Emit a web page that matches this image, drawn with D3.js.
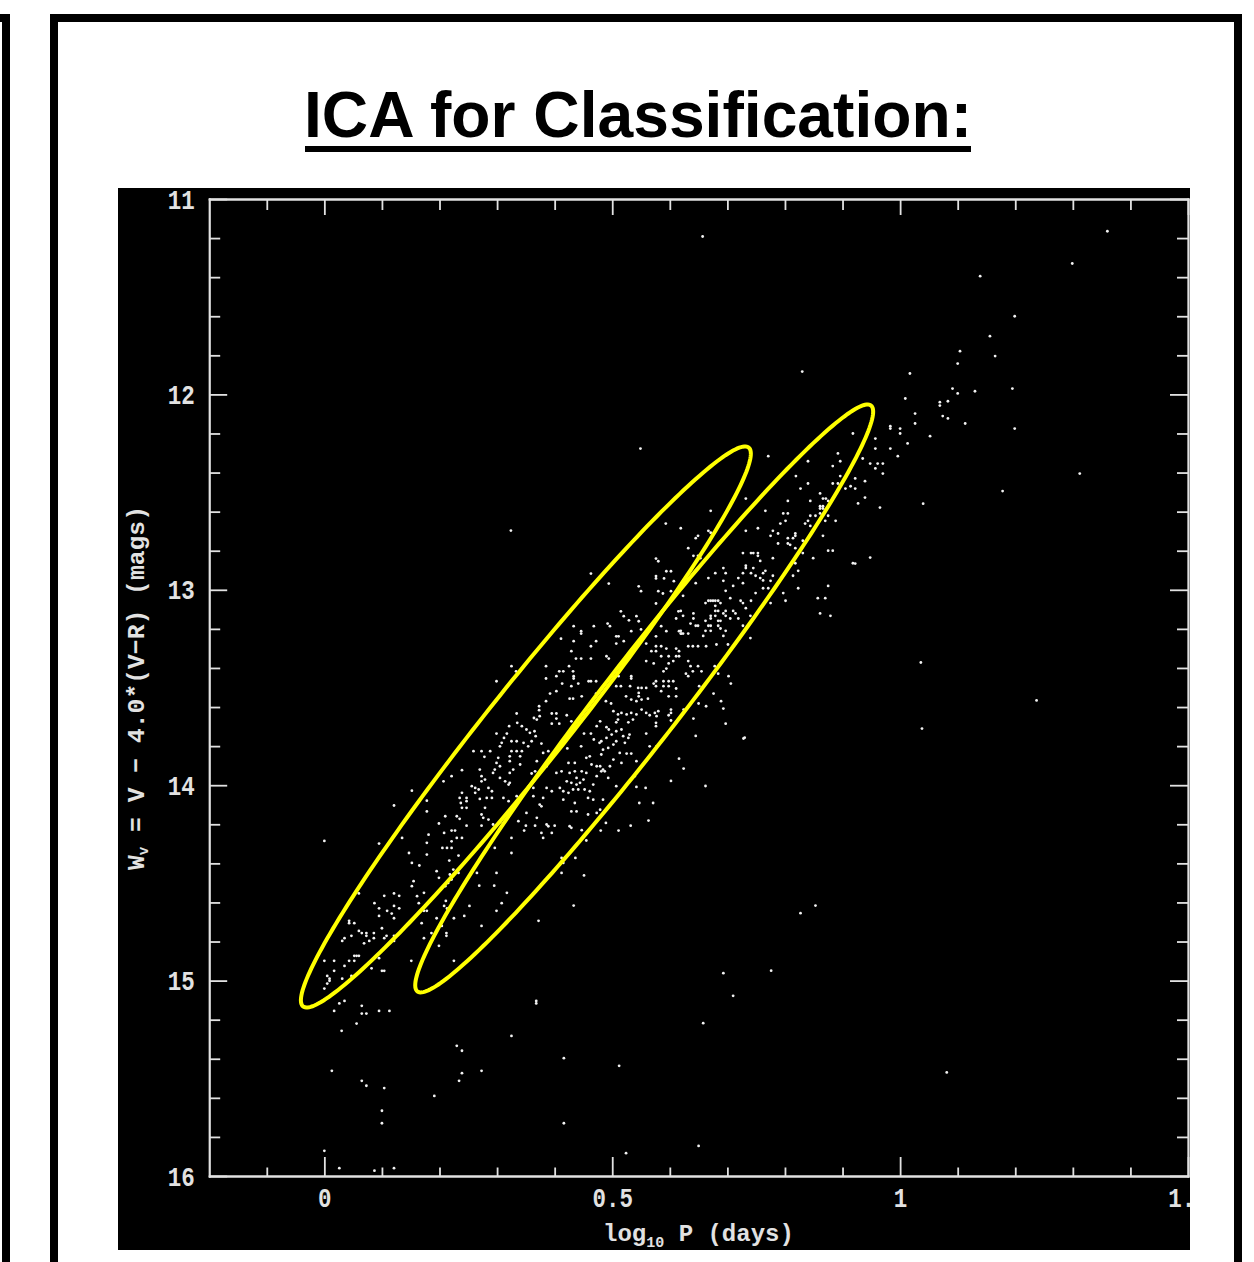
<!DOCTYPE html>
<html><head><meta charset="utf-8">
<script src="https://cdn.jsdelivr.net/npm/d3@7/dist/d3.min.js"></script>
<style>html,body{margin:0;padding:0;background:#fff;overflow:hidden}svg{display:block}</style>
</head><body><svg id="c" width="1254" height="1262"></svg>
<script>
const titleText="ICA for Classification:";
const xMajor=[0,0.5,1,1.5];
const xMinor=[-0.1,0.1,0.2,0.3,0.4,0.6,0.7,0.8,0.9,1.1,1.2,1.3,1.4];
const yMajor=[11,12,13,14,15,16];
const yMinor=[11.2,11.4,11.6,11.8,12.2,12.4,12.6,12.8,13.2,13.4,13.6,13.8,14.2,14.4,14.6,14.8,15.2,15.4,15.6,15.8];
// ellipse: centre, semi-major vector, semi-minor vector, in data units
const ellipseA={c:[0.350,13.702],u:[0.387,-1.430],v:[0.054,0.128]};
const ellipseB={c:[0.5555,13.556],u:[0.394,-1.499],v:[0.054,0.128]};
// [log10 P, W]
const starsBright=[[1.360,11.165],[1.299,11.330],[1.139,11.395],[1.199,11.600],[1.156,11.702],[1.104,11.779],[1.165,11.804],[1.100,11.842],[1.017,11.893],[1.091,11.970],[1.100,11.995],[1.130,11.984],[1.195,11.970],[1.009,12.021],[1.083,12.035],[1.069,12.040],[1.069,12.057],[1.026,12.098],[1.074,12.111],[1.083,12.123],[1.026,12.149],[1.113,12.149],[0.983,12.163],[0.983,12.175],[1.000,12.175],[1.000,12.200],[1.199,12.175],[1.052,12.214],[0.957,12.226],[1.013,12.251],[0.957,12.277],[0.983,12.277],[0.996,12.316],[0.935,12.328],[0.948,12.354],[0.961,12.354],[0.970,12.354],[0.957,12.379],[0.970,12.405],[1.312,12.405],[0.939,12.444],[1.178,12.495],[0.939,12.528],[0.657,11.192],[0.830,11.883],[0.549,12.277],[0.324,12.697],[1.040,12.559],[0.965,12.579],[1.036,13.372],[1.038,13.710],[1.237,13.566],[0.948,12.835],[0.922,12.866],[0.593,12.661],[0.730,13.757]];
const starsUpper=[[0.918,12.200],[0.771,12.316],[0.892,12.302],[0.840,12.342],[0.896,12.342],[0.883,12.367],[0.819,12.418],[0.896,12.418],[0.922,12.430],[0.840,12.456],[0.883,12.456],[0.892,12.456],[0.914,12.470],[0.905,12.482],[0.922,12.482],[0.827,12.482],[0.732,12.533],[0.805,12.545],[0.844,12.545],[0.861,12.507],[0.866,12.533],[0.871,12.533],[0.875,12.545],[0.927,12.558],[0.861,12.572],[0.866,12.572],[0.861,12.584],[0.866,12.584],[0.766,12.596],[0.671,12.596],[0.797,12.609],[0.805,12.609],[0.861,12.609],[0.844,12.621],[0.853,12.621],[0.875,12.621],[0.801,12.647],[0.840,12.647],[0.870,12.647],[0.888,12.647],[0.792,12.661],[0.835,12.661],[0.844,12.673],[0.753,12.685],[0.619,12.685],[0.779,12.698],[0.732,12.698],[0.667,12.698],[0.671,12.708],[0.788,12.712],[0.818,12.712],[0.818,12.724],[0.775,12.724],[0.866,12.724],[0.649,12.724],[0.645,12.736],[0.805,12.736],[0.814,12.736],[0.831,12.749],[0.788,12.763],[0.805,12.763],[0.809,12.770],[0.818,12.787],[0.632,12.787],[0.875,12.800],[0.883,12.800],[0.727,12.812],[0.741,12.812],[0.745,12.812],[0.753,12.812],[0.753,12.826],[0.831,12.812],[0.641,12.826],[0.649,12.826],[0.653,12.838],[0.779,12.838],[0.849,12.838],[0.757,12.852],[0.818,12.864],[0.918,12.864],[0.732,12.877],[0.732,12.889],[0.693,12.889],[0.745,12.889],[0.823,12.903],[0.766,12.903],[0.679,12.915],[0.697,12.915],[0.727,12.915],[0.741,12.915],[0.762,12.915],[0.749,12.928],[0.779,12.928],[0.814,12.928],[0.667,12.940],[0.719,12.940],[0.757,12.940],[0.762,12.952],[0.693,12.954],[0.775,12.954],[0.727,12.966],[0.645,12.966],[0.710,12.980],[0.875,12.980],[0.762,12.992],[0.771,12.992],[0.823,12.992],[0.697,13.005],[0.749,13.017],[0.797,13.017],[0.623,13.031],[0.857,13.043],[0.870,13.043],[0.705,13.043],[0.667,13.056],[0.671,13.056],[0.675,13.056],[0.679,13.056],[0.684,13.056],[0.662,13.068],[0.688,13.068],[0.723,13.056],[0.727,13.068],[0.741,13.056],[0.775,13.068],[0.801,13.056],[0.679,13.082],[0.732,13.094],[0.679,13.108],[0.684,13.108],[0.697,13.108],[0.710,13.108],[0.714,13.121],[0.619,13.108],[0.641,13.121],[0.693,13.121],[0.861,13.121],[0.879,13.133],[0.623,13.133],[0.671,13.133],[0.671,13.147],[0.697,13.133],[0.679,13.133],[0.705,13.147],[0.719,13.147],[0.740,13.133],[0.641,13.147],[0.636,13.173],[0.662,13.159],[0.684,13.159],[0.688,13.159],[0.645,13.184],[0.649,13.184],[0.667,13.184],[0.671,13.184],[0.684,13.184],[0.688,13.198],[0.662,13.210],[0.671,13.210],[0.697,13.210],[0.619,13.210],[0.619,13.224],[0.623,13.224],[0.632,13.224],[0.658,13.236],[0.693,13.236],[0.727,13.184],[0.740,13.247]];
const starsMiddle=[[0.463,12.917],[0.494,12.968],[0.576,12.840],[0.580,12.854],[0.576,12.930],[0.576,12.942],[0.594,12.905],[0.602,12.905],[0.590,12.942],[0.607,12.956],[0.546,12.982],[0.550,13.007],[0.580,13.007],[0.588,13.019],[0.602,13.007],[0.576,13.070],[0.515,13.110],[0.520,13.135],[0.529,13.156],[0.542,13.135],[0.546,13.161],[0.492,13.173],[0.496,13.186],[0.433,13.186],[0.468,13.186],[0.585,13.186],[0.615,13.110],[0.611,13.147],[0.446,13.212],[0.446,13.224],[0.533,13.212],[0.550,13.203],[0.576,13.238],[0.594,13.212],[0.616,13.212],[0.620,13.224],[0.511,13.238],[0.507,13.238],[0.411,13.250],[0.433,13.263],[0.472,13.263],[0.507,13.275],[0.520,13.263],[0.463,13.289],[0.576,13.289],[0.585,13.289],[0.594,13.301],[0.559,13.275],[0.429,13.314],[0.490,13.340],[0.494,13.352],[0.437,13.352],[0.446,13.352],[0.463,13.352],[0.568,13.314],[0.576,13.314],[0.611,13.301],[0.616,13.314],[0.616,13.340],[0.611,13.340],[0.598,13.340],[0.585,13.340],[0.559,13.365],[0.572,13.377],[0.606,13.365],[0.598,13.377],[0.594,13.403],[0.589,13.417],[0.632,13.289],[0.640,13.289],[0.649,13.289],[0.663,13.289],[0.681,13.280],[0.701,13.280],[0.385,13.391],[0.325,13.391],[0.333,13.417],[0.425,13.391],[0.408,13.417],[0.415,13.417],[0.432,13.417],[0.403,13.442],[0.385,13.454],[0.433,13.442],[0.433,13.454],[0.299,13.468],[0.459,13.468],[0.463,13.468],[0.472,13.468],[0.413,13.480],[0.429,13.493],[0.441,13.480],[0.511,13.442],[0.533,13.442],[0.533,13.454],[0.515,13.493],[0.576,13.468],[0.572,13.480],[0.576,13.493],[0.589,13.468],[0.598,13.468],[0.606,13.468],[0.589,13.493],[0.598,13.493],[0.545,13.502],[0.551,13.502],[0.559,13.502],[0.531,13.493],[0.507,13.493],[0.651,13.493],[0.611,13.505],[0.676,13.531],[0.632,13.442],[0.640,13.417],[0.636,13.391],[0.632,13.365],[0.649,13.391],[0.655,13.417],[0.684,13.391],[0.678,13.391],[0.684,13.429],[0.702,13.442],[0.706,13.480],[0.628,13.429],[0.392,13.531],[0.403,13.519],[0.447,13.545],[0.426,13.557],[0.432,13.557],[0.385,13.570],[0.472,13.531],[0.489,13.570],[0.498,13.582],[0.524,13.545],[0.546,13.528],[0.546,13.545],[0.533,13.562],[0.542,13.570],[0.551,13.562],[0.562,13.557],[0.611,13.545],[0.585,13.519],[0.598,13.545],[0.689,13.570],[0.693,13.608],[0.663,13.596],[0.650,13.582],[0.373,13.596],[0.373,13.616],[0.334,13.633],[0.364,13.656],[0.369,13.664],[0.374,13.647],[0.395,13.633],[0.403,13.633],[0.421,13.642],[0.455,13.608],[0.502,13.621],[0.510,13.638],[0.516,13.630],[0.510,13.664],[0.507,13.678],[0.525,13.638],[0.533,13.630],[0.542,13.638],[0.536,13.664],[0.528,13.678],[0.551,13.613],[0.559,13.630],[0.565,13.642],[0.574,13.630],[0.580,13.621],[0.577,13.647],[0.598,13.642],[0.602,13.613],[0.602,13.630],[0.576,13.681],[0.576,13.698],[0.602,13.669],[0.624,13.613],[0.641,13.659],[0.697,13.685],[0.645,13.748],[0.728,13.761]];
const starsLower=[[0.335,13.681],[0.343,13.698],[0.351,13.715],[0.357,13.732],[0.321,13.698],[0.365,13.724],[0.367,13.749],[0.395,13.685],[0.403,13.659],[0.408,13.685],[0.429,13.673],[0.479,13.673],[0.490,13.703],[0.494,13.715],[0.516,13.715],[0.507,13.724],[0.499,13.741],[0.490,13.758],[0.473,13.698],[0.519,13.749],[0.530,13.741],[0.463,13.736],[0.468,13.766],[0.451,13.736],[0.481,13.775],[0.478,13.783],[0.559,13.736],[0.299,13.736],[0.317,13.736],[0.312,13.758],[0.334,13.775],[0.325,13.775],[0.346,13.783],[0.360,13.775],[0.305,13.801],[0.308,13.783],[0.377,13.787],[0.422,13.812],[0.446,13.801],[0.507,13.775],[0.522,13.783],[0.528,13.758],[0.502,13.792],[0.493,13.809],[0.484,13.818],[0.481,13.843],[0.513,13.835],[0.525,13.838],[0.533,13.838],[0.565,13.801],[0.577,13.801],[0.389,13.826],[0.380,13.835],[0.325,13.826],[0.334,13.826],[0.343,13.826],[0.322,13.852],[0.340,13.852],[0.354,13.801],[0.369,13.877],[0.302,13.860],[0.299,13.886],[0.273,13.826],[0.259,13.826],[0.288,13.826],[0.305,13.903],[0.322,13.877],[0.340,13.894],[0.278,13.855],[0.461,13.852],[0.455,13.860],[0.464,13.894],[0.473,13.903],[0.479,13.903],[0.496,13.903],[0.484,13.920],[0.502,13.869],[0.516,13.886],[0.542,13.877],[0.616,13.864],[0.624,13.915],[0.435,13.886],[0.424,13.886],[0.412,13.929],[0.403,13.937],[0.386,13.903],[0.366,13.929],[0.360,13.940],[0.270,13.920],[0.296,13.920],[0.293,13.937],[0.328,13.920],[0.322,13.937],[0.426,13.937],[0.435,13.929],[0.447,13.929],[0.455,13.937],[0.473,13.954],[0.481,13.929],[0.487,13.929],[0.493,13.963],[0.239,13.923],[0.221,13.954],[0.207,13.980],[0.273,13.954],[0.273,13.980],[0.279,13.971],[0.305,13.963],[0.314,13.980],[0.322,13.988],[0.320,13.997],[0.363,14.014],[0.386,14.014],[0.395,14.031],[0.409,14.014],[0.438,13.963],[0.438,13.997],[0.444,13.988],[0.450,13.971],[0.421,13.980],[0.429,13.988],[0.415,14.031],[0.424,14.039],[0.432,14.022],[0.441,14.022],[0.452,14.022],[0.461,14.031],[0.467,13.997],[0.507,14.005],[0.539,13.954],[0.542,14.009],[0.558,14.014],[0.602,13.978],[0.662,14.004],[0.256,14.005],[0.262,14.014],[0.268,14.022],[0.262,14.039],[0.285,14.014],[0.291,14.031],[0.282,14.065],[0.291,14.065],[0.239,14.039],[0.235,14.065],[0.247,14.065],[0.247,14.082],[0.270,14.070],[0.237,14.091],[0.152,14.028],[0.178,14.079],[0.178,14.134],[0.239,14.116],[0.247,14.116],[0.279,14.116],[0.311,14.065],[0.320,14.082],[0.334,14.056],[0.363,14.056],[0.374,14.099],[0.377,14.108],[0.380,14.065],[0.415,14.074],[0.435,14.091],[0.458,14.065],[0.467,14.074],[0.484,14.074],[0.429,14.134],[0.438,14.134],[0.479,14.125],[0.473,14.142],[0.458,14.150],[0.547,14.091],[0.571,14.091],[0.351,14.142],[0.369,14.167],[0.273,14.150],[0.276,14.167],[0.210,14.159],[0.230,14.159],[0.235,14.172],[0.285,14.176],[0.305,14.189],[0.293,14.201],[0.199,14.196],[0.247,14.207],[0.273,14.207],[0.337,14.184],[0.350,14.207],[0.366,14.207],[0.386,14.201],[0.389,14.210],[0.400,14.207],[0.426,14.210],[0.429,14.218],[0.489,14.193],[0.532,14.207],[0.563,14.181],[0.447,14.230],[0.347,14.232],[0.395,14.244],[0.377,14.244],[0.380,14.270],[0.480,14.232],[0.511,14.232],[0.181,14.253],[0.208,14.244],[0.221,14.232],[0.227,14.232],[0.135,14.270],[0.178,14.295],[0.221,14.287],[0.230,14.270],[0.239,14.270],[0.325,14.270],[0.455,14.283],[0.213,14.321],[0.221,14.321],[0.205,14.321],[0.296,14.321],[0.147,14.347],[0.178,14.355],[0.233,14.360],[0.325,14.347],[0.412,14.372],[0.415,14.398],[0.436,14.372],[0.217,14.386],[0.152,14.398],[0.165,14.411],[0.195,14.440],[0.224,14.432],[0.218,14.457],[0.233,14.449],[0.265,14.449],[0.299,14.449],[0.412,14.449],[0.451,14.462],[0.155,14.491],[0.152,14.517],[0.199,14.474],[0.215,14.500],[0.221,14.483],[0.269,14.514],[0.295,14.514],[0.173,14.551],[0.161,14.568],[0.317,14.551],[0.210,14.517]];
const starsFaint=[[0.121,14.104],[0.000,14.285],[0.095,14.299],[0.060,14.554],[0.104,14.566],[0.121,14.554],[0.130,14.566],[0.087,14.604],[0.095,14.630],[0.121,14.618],[0.130,14.630],[0.109,14.643],[0.117,14.657],[0.095,14.669],[0.121,14.681],[0.043,14.694],[0.043,14.706],[0.052,14.706],[0.100,14.732],[0.060,14.746],[0.065,14.757],[0.073,14.757],[0.073,14.771],[0.086,14.757],[0.086,14.783],[0.047,14.771],[0.108,14.771],[0.104,14.783],[0.121,14.771],[0.121,14.797],[0.035,14.783],[0.031,14.797],[0.078,14.797],[0.069,14.809],[0.052,14.873],[0.060,14.873],[0.056,14.873],[0.095,14.885],[0.000,14.899],[0.017,14.899],[0.043,14.899],[0.052,14.899],[0.035,14.925],[0.082,14.937],[0.100,14.950],[0.104,14.950],[0.017,14.950],[0.047,14.976],[0.005,14.976],[0.009,14.990],[0.009,15.001],[0.031,14.990],[0.005,15.015],[0.000,15.041],[0.035,15.104],[0.026,15.117],[0.017,15.155],[0.065,15.129],[0.065,15.169],[0.073,15.169],[0.095,15.155],[0.113,15.155],[0.056,15.220],[0.030,15.257],[0.164,14.604],[0.211,14.592],[0.208,14.618],[0.213,14.631],[0.252,14.618],[0.173,14.643],[0.178,14.643],[0.308,14.604],[0.299,14.643],[0.243,14.669],[0.195,14.681],[0.225,14.681],[0.169,14.706],[0.204,14.720],[0.273,14.720],[0.372,14.694],[0.186,14.757],[0.212,14.757],[0.212,14.771],[0.173,14.783],[0.199,14.822],[0.151,14.899],[0.225,14.899],[0.368,15.104],[0.368,15.117],[0.325,15.283],[0.433,14.616],[0.827,14.655],[0.853,14.616],[0.693,14.962],[0.776,14.949],[0.710,15.078],[0.658,15.218],[0.230,15.334],[0.239,15.359],[0.013,15.462],[0.273,15.462],[0.239,15.474],[0.065,15.513],[0.234,15.513],[0.073,15.538],[0.104,15.550],[0.191,15.590],[0.416,15.397],[0.512,15.436],[0.100,15.666],[0.100,15.730],[0.416,15.730],[0.000,15.871],[0.650,15.846],[0.524,15.883],[0.026,15.960],[0.087,15.973],[0.121,15.960],[1.081,15.470]];
const stars=[...starsBright,...starsUpper,...starsMiddle,...starsLower,...starsFaint];

const svg=d3.select("#c");
const ink="#e2e2e2";
// page frames
[[0,14,10,8],[2,14,8,1248],[50,14,1192,8],[50,14,8,1248],[1234,14,8,1248]].forEach(r=>{
  svg.append("rect").attr("x",r[0]).attr("y",r[1]).attr("width",r[2]).attr("height",r[3]).attr("fill","#000");
});
// title
svg.append("text").attr("x",638).attr("y",137).attr("text-anchor","middle")
  .attr("font-family","'Liberation Sans',Arial,sans-serif").attr("font-weight","700").attr("font-size",64.2)
  .attr("fill","#000").text(titleText);
svg.append("rect").attr("x",305).attr("y",146).attr("width",666).attr("height",6).attr("fill","#000");
// image panel
svg.append("rect").attr("x",118).attr("y",188).attr("width",1072).attr("height",1062).attr("fill","#000");
svg.append("clipPath").attr("id","panel").append("rect").attr("x",118).attr("y",188).attr("width",1072).attr("height",1062);
const g=svg.append("g").attr("clip-path","url(#panel)");

const x=d3.scaleLinear().domain([-0.2,1.5]).range([209.2,1188]);
const y=d3.scaleLinear().domain([11,16]).range([199,1176]);

function style(sel){
  sel.selectAll("path,line").attr("stroke",ink).attr("stroke-width",1.8);
  sel.select("path").attr("stroke-linecap","square");
  sel.selectAll("text").attr("fill",ink);
}
const fmt=d=>String(d);
const mono="'Liberation Mono','DejaVu Sans Mono',monospace";
// bottom
g.append("g").attr("transform",`translate(0,${y(16)})`).call(d3.axisBottom(x).tickValues(xMinor).tickSize(-8.5).tickSizeOuter(0).tickFormat("")).call(style);
const bm=g.append("g").attr("transform",`translate(0,${y(16)})`).call(d3.axisBottom(x).tickValues(xMajor).tickSize(-19).tickSizeOuter(0).tickPadding(0).tickFormat(fmt)).call(style);
bm.selectAll("text").attr("font-family",mono).attr("font-size",22.5).attr("font-weight","700").attr("text-anchor","middle")
  .attr("dy",null).attr("y",0).attr("transform","translate(0,31) scale(1,1.25)");
// top
g.append("g").attr("transform",`translate(0,${y(11)})`).call(d3.axisTop(x).tickValues(xMinor).tickSize(-11).tickSizeOuter(0).tickFormat("")).call(style);
g.append("g").attr("transform",`translate(0,${y(11)})`).call(d3.axisTop(x).tickValues(xMajor).tickSize(-16).tickSizeOuter(0).tickFormat("")).call(style);
// left
g.append("g").attr("transform",`translate(${x(-0.2)},0)`).call(d3.axisLeft(y).tickValues(yMinor).tickSize(-11).tickSizeOuter(0).tickFormat("")).call(style);
const lm=g.append("g").attr("transform",`translate(${x(-0.2)},0)`).call(d3.axisLeft(y).tickValues(yMajor).tickSize(-18).tickSizeOuter(0).tickPadding(0).tickFormat(fmt)).call(style);
lm.selectAll("text").attr("font-family",mono).attr("font-size",22.5).attr("font-weight","700").attr("text-anchor","middle")
  .attr("dy",null).attr("x",0).attr("y",0).attr("transform","translate(-28,9) scale(1,1.25)");
// right
g.append("g").attr("transform",`translate(${x(1.5)},0)`).call(d3.axisRight(y).tickValues(yMinor).tickSize(-11).tickSizeOuter(0).tickFormat("")).call(style);
g.append("g").attr("transform",`translate(${x(1.5)},0)`).call(d3.axisRight(y).tickValues(yMajor).tickSize(-18).tickSizeOuter(0).tickFormat("")).call(style);

// stars
g.append("g").selectAll("circle").data(stars).join("circle")
  .attr("cx",d=>x(d[0])).attr("cy",d=>y(d[1])).attr("r",1.4).attr("fill","#f2f2f2");

// ellipses
const thetas=d3.range(0,360,1.5).map(d=>d*Math.PI/180);
const line=d3.line().x(d=>x(d[0])).y(d=>y(d[1])).curve(d3.curveLinearClosed);
[ellipseA,ellipseB].forEach(e=>{
  const pts=thetas.map(t=>[e.c[0]+e.u[0]*Math.cos(t)+e.v[0]*Math.sin(t),e.c[1]+e.u[1]*Math.cos(t)+e.v[1]*Math.sin(t)]);
  g.append("path").attr("d",line(pts)).attr("fill","none").attr("stroke","#ffff00").attr("stroke-width",4);
});

// axis titles
const xt=g.append("text").attr("x",603).attr("y",1241).attr("font-family",mono).attr("font-size",24).attr("font-weight","700").attr("fill",ink);
xt.append("tspan").text("log");
xt.append("tspan").attr("font-size",15).attr("dy",6).text("10");
xt.append("tspan").attr("dy",-6).text(" P (days)");
const yt=g.append("text").attr("transform","translate(144,870) rotate(-90)").attr("font-family",mono).attr("font-size",24.7).attr("font-weight","700").attr("fill",ink);
yt.append("tspan").text("W");
yt.append("tspan").attr("font-size",14).attr("dy",4).text("v");
yt.append("tspan").attr("dy",-4).text(" = V − 4.0*(V−R) (mags)");
</script></body></html>
